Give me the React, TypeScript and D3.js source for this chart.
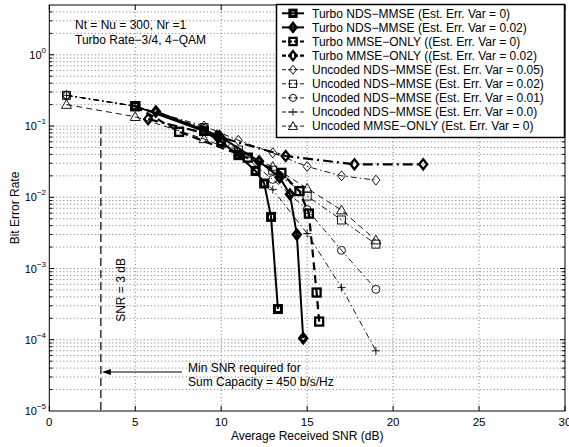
import React from "react";
import * as d3 from "d3";

const W = 569;
const H = 447;
const PLOT = { left: 49.3, right: 565, top: 5, bottom: 411 };

// uncoded curves share one SNR grid
const uncodedSnr = [1, 5, 9, 11, 13, 15, 17, 19];
const uncodedNds005 = [0.27, 0.19, 0.1, 0.063, 0.042, 0.027, 0.02, 0.0174];
const uncodedNds002 = [0.27, 0.19, 0.095, 0.046, 0.024, 0.0104, 0.0048, 0.0022];
const uncodedNds001 = [0.27, 0.19, 0.093, 0.043, 0.0178, 0.0067, 0.0018, 0.00051];
const uncodedNds0 = [0.27, 0.19, 0.09, 0.04, 0.0128, 0.0031, 0.00054, 0.00007];
const uncodedMmse = [0.2, 0.135, 0.066, 0.042, 0.027, 0.0133, 0.0066, 0.0025];

const turboNds0Snr = [5, 9, 10, 11, 12, 12.5, 12.9, 13.3];
const turboNds0 = [0.19, 0.085, 0.06, 0.039, 0.0234, 0.0156, 0.0053, 0.00027];
const turboNds002Snr = [6.2, 9.9, 12.2, 13.4, 14, 14.4, 14.77];
const turboNds002 = [0.16, 0.072, 0.032, 0.019, 0.011, 0.003, 0.000105];
const turboMmse0Snr = [5, 7.55, 11.55, 13.5, 14.55, 15.1, 15.55, 15.7];
const turboMmse0 = [0.19, 0.083, 0.036, 0.022, 0.0122, 0.0059, 0.00046, 0.00018];
const turboMmse002Snr = [5.75, 9.75, 13.75, 17.75, 21.75];
const turboMmse002 = [0.125, 0.072, 0.038, 0.029, 0.029];

const xTicks = [0, 5, 10, 15, 20, 25, 30];
const yExponents = [0, -1, -2, -3, -4, -5];

const series = [
  { name: "Turbo NDS\u2212MMSE (Est. Err. Var = 0)", x: turboNds0Snr, y: turboNds0, marker: "square", dash: null, lw: 2, mw: 3, ms: 7 },
  { name: "Turbo NDS\u2212MMSE (Est. Err. Var = 0.02)", x: turboNds002Snr, y: turboNds002, marker: "diamond", dash: null, lw: 2, mw: 3, ms: 9 },
  { name: "Turbo MMSE\u2212ONLY ((Est. Err. Var = 0)", x: turboMmse0Snr, y: turboMmse0, marker: "square", dash: "8,5", lw: 2.2, mw: 2.3, ms: 8 },
  { name: "Turbo MMSE\u2212ONLY ((Est. Err. Var = 0.02)", x: turboMmse002Snr, y: turboMmse002, marker: "diamond", dash: "10,4,2,4", lw: 2.2, mw: 2.3, ms: 10 },
  { name: "Uncoded NDS\u2212MMSE (Est. Err. Var = 0.05)", x: uncodedSnr, y: uncodedNds005, marker: "diamond", dash: "6,3,1.5,3", lw: 0.9, mw: 0.9, ms: 10 },
  { name: "Uncoded NDS\u2212MMSE (Est. Err. Var = 0.02)", x: uncodedSnr, y: uncodedNds002, marker: "square", dash: "6,3,1.5,3", lw: 0.9, mw: 0.9, ms: 8 },
  { name: "Uncoded NDS\u2212MMSE (Est. Err. Var = 0.01)", x: uncodedSnr, y: uncodedNds001, marker: "circle", dash: "6,3,1.5,3", lw: 0.9, mw: 0.9, ms: 8 },
  { name: "Uncoded NDS\u2212MMSE (Est. Err. Var = 0.0)", x: uncodedSnr, y: uncodedNds0, marker: "plus", dash: "6,3,1.5,3", lw: 0.9, mw: 0.9, ms: 8 },
  { name: "Uncoded MMSE\u2212ONLY (Est. Err. Var = 0)", x: uncodedSnr, y: uncodedMmse, marker: "triangle", dash: "6,4", lw: 0.9, mw: 0.9, ms: 10 },
];

const Marker = ({ type, cx, cy, s, sw }) => {
  const h = s / 2;
  const common = { fill: "none", stroke: "#000", strokeWidth: sw };
  if (type === "square") return <rect x={cx - h} y={cy - h} width={s} height={s} {...common} />;
  if (type === "circle") return <circle cx={cx} cy={cy} r={h} {...common} />;
  if (type === "diamond")
    return <path d={`M${cx},${cy - h}L${cx + h * 0.8},${cy}L${cx},${cy + h}L${cx - h * 0.8},${cy}Z`} {...common} />;
  if (type === "triangle")
    return <path d={`M${cx},${cy - h}L${cx + h},${cy + h * 0.75}L${cx - h},${cy + h * 0.75}Z`} {...common} />;
  return <path d={`M${cx - h},${cy}H${cx + h}M${cx},${cy - h}V${cy + h}`} {...common} />;
};

export default function App() {
  const x = d3.scaleLinear().domain([0, 30]).range([PLOT.left, PLOT.right]);
  const y = d3.scaleLog().domain([1e-5, 5]).range([PLOT.bottom, PLOT.top]);
  const font = "'Liberation Sans', Arial, Helvetica, sans-serif";

  const minorY = [];
  for (let e = -5; e <= 0; e++) {
    for (let m = 1; m <= 9; m++) {
      const v = m * Math.pow(10, e);
      if (v > 1e-5 && v < 5) minorY.push(v);
    }
  }

  const legendRows = series.map((s, i) => 13.3 + i * 14.1);

  return (
    <svg width={W} height={H} style={{ position: "absolute", left: 0, top: 0, background: "#fff" }} fontFamily={font}>
      <rect width={W} height={H} fill="#fff" />
      {/* grid */}
      {xTicks.slice(1, -1).map((t) => (
        <line key={"gx" + t} x1={x(t)} x2={x(t)} y1={PLOT.top} y2={PLOT.bottom} stroke="#555" strokeWidth={0.8} strokeDasharray="1,2.5" />
      ))}
      {minorY.map((v) => (
        <line key={"gy" + v} x1={PLOT.left} x2={PLOT.right} y1={y(v)} y2={y(v)} stroke="#555" strokeWidth={0.8} strokeDasharray="1,2.5" />
      ))}

      {/* curves */}
      {series.map((s, si) => {
        const pts = s.x.map((v, i) => [x(v), y(s.y[i])]);
        const path = d3.line()(pts);
        return (
          <g key={"s" + si}>
            <path d={path} fill="none" stroke="#000" strokeWidth={s.lw} strokeDasharray={s.dash || undefined} />
            {pts.map((p, i) => (
              <Marker key={i} type={s.marker} cx={p[0]} cy={p[1]} s={s.ms} sw={s.mw} />
            ))}
          </g>
        );
      })}

      {/* frame and ticks */}
      <rect x={PLOT.left} y={PLOT.top} width={PLOT.right - PLOT.left} height={PLOT.bottom - PLOT.top} fill="none" stroke="#000" strokeWidth={1} />
      {xTicks.map((t) => (
        <g key={"tx" + t}>
          <line x1={x(t)} x2={x(t)} y1={PLOT.bottom} y2={PLOT.bottom - 5} stroke="#000" />
          <line x1={x(t)} x2={x(t)} y1={PLOT.top} y2={PLOT.top + 5} stroke="#000" />
          <text x={x(t)} y={426} fontSize={11.5} textAnchor="middle">{t}</text>
        </g>
      ))}
      {minorY.map((v) => {
        const major = Math.abs(Math.log10(v) - Math.round(Math.log10(v))) < 1e-9;
        const len = major ? 5 : 3;
        return (
          <g key={"ty" + v}>
            <line x1={PLOT.left} x2={PLOT.left + len} y1={y(v)} y2={y(v)} stroke="#000" />
            <line x1={PLOT.right} x2={PLOT.right - len} y1={y(v)} y2={y(v)} stroke="#000" />
          </g>
        );
      })}
      {yExponents.map((e) => (
        <text key={"yl" + e} x={46} y={y(Math.pow(10, e)) + 4} fontSize={11} textAnchor="end">
          10
          <tspan dy={-6} fontSize={8}>{e === 0 ? "0" : "\u2212" + Math.abs(e)}</tspan>
        </text>
      ))}

      {/* axis labels */}
      <text x={(PLOT.left + PLOT.right) / 2} y={440} fontSize={12} textAnchor="middle">Average Received SNR (dB)</text>
      <text transform={`translate(19,${(PLOT.top + PLOT.bottom) / 2}) rotate(-90)`} fontSize={12} textAnchor="middle">Bit Error Rate</text>

      {/* annotations */}
      <text x={75} y={29} fontSize={12}>Nt = Nu = 300, Nr =1</text>
      <text x={75} y={44} fontSize={12}>Turbo Rate{"\u2212"}3/4, 4{"\u2212"}QAM</text>
      <line x1={x(3)} x2={x(3)} y1={y(0.1)} y2={PLOT.bottom} stroke="#000" strokeWidth={1.2} strokeDasharray="8,4" />
      <text transform={`translate(125,${y(0.0005)}) rotate(-90)`} fontSize={12} textAnchor="middle">SNR = 3 dB</text>
      <line x1={182} x2={108} y1={372} y2={372} stroke="#000" strokeWidth={1} />
      <path d={`M${x(3) + 1},372L${x(3) + 10},369L${x(3) + 10},375Z`} fill="#000" />
      <text x={188} y={372} fontSize={12}>Min SNR required for</text>
      <text x={188} y={386} fontSize={12}>Sum Capacity = 450 b/s/Hz</text>

      {/* legend */}
      <rect x={276.5} y={4.5} width={288} height={133} fill="#fff" stroke="#000" strokeWidth={1.5} />
      {series.map((s, i) => (
        <g key={"lg" + i}>
          <line x1={282} x2={304} y1={legendRows[i]} y2={legendRows[i]} stroke="#000" strokeWidth={s.lw} strokeDasharray={s.dash ? "4,2" : undefined} />
          <Marker type={s.marker} cx={293} cy={legendRows[i]} s={s.ms * 0.9} sw={s.mw} />
          <text x={312} y={legendRows[i] + 4.3} fontSize={12}>{s.name}</text>
        </g>
      ))}
    </svg>
  );
}
